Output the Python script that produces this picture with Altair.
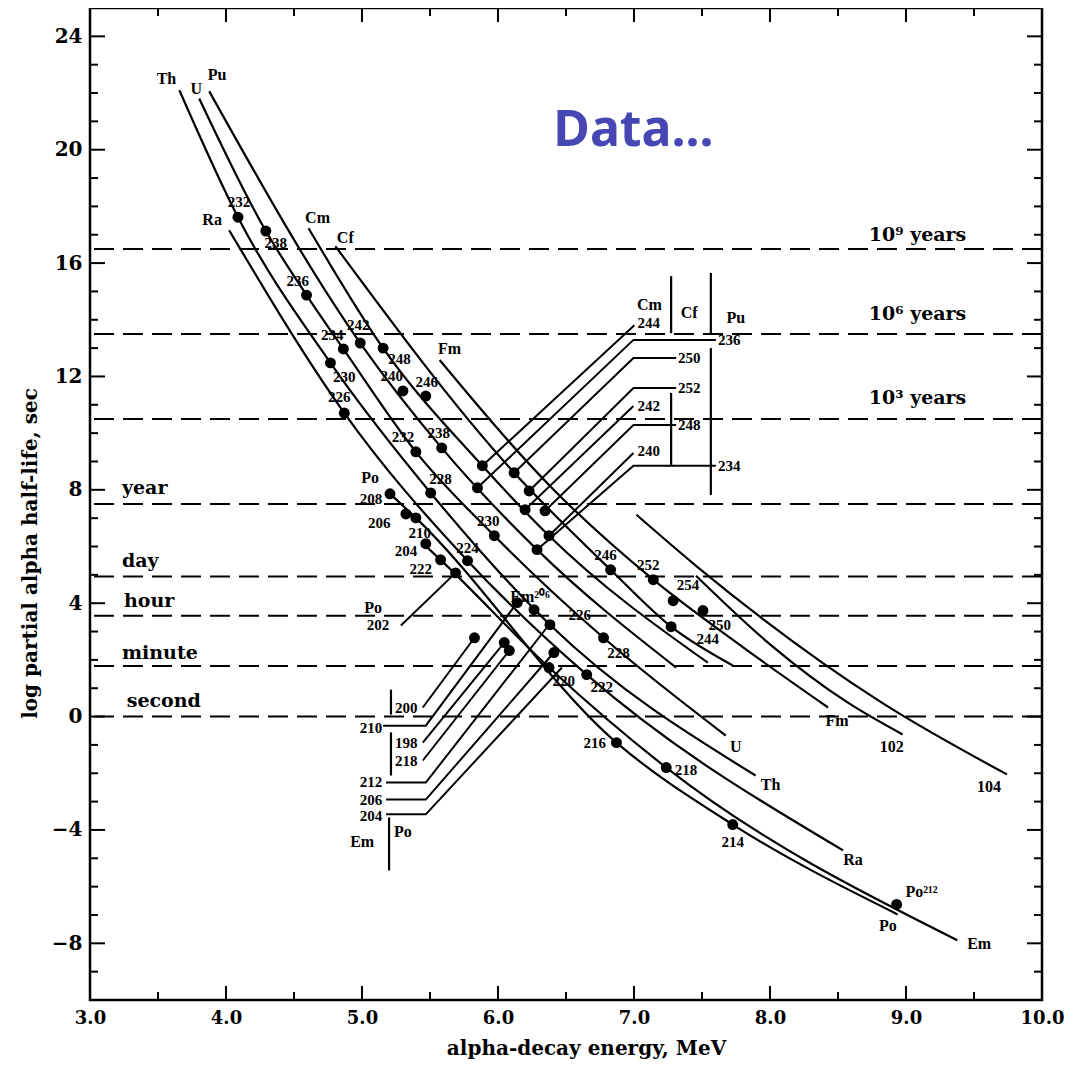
import altair as alt
import pandas as pd

W, H = 952, 992
SERIF = "Liberation Serif"
WIDE = "DejaVu Serif"

# ---------------- axes ----------------
x_major = [3, 4, 5, 6, 7, 8, 9, 10]
x_minor = [3.5, 4.5, 5.5, 6.5, 7.5, 8.5, 9.5]
y_major = [-8, -4, 0, 4, 8, 12, 16, 20, 24]
y_minor = [-9, -7, -6, -5, -3, -2, -1, 1, 2, 3, 5, 6, 7, 9, 10, 11,
           13, 14, 15, 17, 18, 19, 21, 22, 23]

# ---------------- reference (dashed) lines ----------------
ref_T = [16.5, 13.5, 10.5, 7.5, 4.94, 3.56, 1.78, 0.0]
ref_right_text = ["10⁹ years", "10⁶ years", "10³ years"]
ref_right_E = [9.085, 9.085, 9.085]
ref_right_T = [16.99, 14.20, 11.24]
ref_left_text = ["year", "day", "hour", "minute", "second"]
ref_left_E = [3.235, 3.235, 3.25, 3.235, 3.27]
ref_left_T = [8.07, 5.50, 4.09, 2.26, 0.56]

# ---------------- element curves (E MeV, log T sec) ----------------
curve_Th = [(3.657, 22.10), (4.088, 17.62), (4.768, 12.48), (5.505, 7.89), (6.382, 3.24), (7.894, -2.08)]
curve_U = [(3.803, 21.81), (4.293, 17.13), (4.592, 14.87), (4.863, 12.97), (5.396, 9.34), (5.973, 6.38), (6.776, 2.78), (7.675, -0.67)]
curve_Pu = [(3.877, 22.06), (4.987, 13.18), (5.586, 9.48), (6.287, 5.89), (7.31, 1.73)]
curve_Ra = [(4.023, 17.16), (4.870, 10.71), (5.776, 5.50), (6.652, 1.48), (8.537, -4.72)]
curve_Cm = [(4.607, 17.23), (5.155, 13.00), (5.885, 8.85), (6.375, 6.38), (7.543, 1.90)]
curve_Cf = [(4.804, 16.60), (6.119, 8.60), (6.828, 5.18), (7.273, 3.17), (7.726, 1.80)]
curve_Fm = [(5.571, 12.58), (6.40, 8.05), (7.142, 4.83), (7.80, 2.45), (8.427, 0.32)]
curve_102 = [(7.456, 4.97), (8.00, 2.55), (8.573, 0.49), (8.975, -0.63)]
curve_104 = [(7.018, 7.12), (7.456, 5.32), (8.822, 0.49), (9.742, -2.04)]
curve_Po = [(5.206, 7.86), (5.396, 7.01), (6.871, -0.92), (7.726, -3.81), (8.939, -6.98)]
curve_Em = [(5.45, 6.10), (5.578, 5.53), (6.375, 1.73), (7.237, -1.80), (9.377, -7.89)]

curves = {"Th": curve_Th, "U": curve_U, "Pu": curve_Pu, "Ra": curve_Ra, "Cm": curve_Cm,
          "Cf": curve_Cf, "Fm": curve_Fm, "102": curve_102, "104": curve_104,
          "Po": curve_Po, "Em": curve_Em}

# ---------------- leader lines (label -> data point) ----------------
leader_Cm244 = [(5.885, 8.85), (7.003, 13.81)]
leader_Pu236 = [(5.849, 8.07), (6.996, 13.29), (7.602, 13.29)]
leader_Cf250 = [(6.119, 8.60), (6.996, 12.65), (7.310, 12.65)]
leader_Cf252 = [(6.229, 7.96), (6.996, 11.59), (7.310, 11.59)]
leader_Cm242 = [(6.199, 7.30), (6.996, 10.96)]
leader_Cf248 = [(6.346, 7.26), (6.996, 10.29), (7.310, 10.29)]
leader_Cm240 = [(6.375, 6.38), (6.996, 9.30)]
leader_Pu234 = [(6.287, 5.89), (6.996, 8.85), (7.602, 8.85)]
leader_Po200 = [(5.447, 0.32), (5.827, 2.78)]
leader_Em210 = [(5.155, -0.32), (5.469, -0.32), (6.141, 4.02)]
leader_Po198 = [(5.447, -0.92), (6.046, 2.61)]
leader_Po218 = [(5.447, -1.55), (6.083, 2.33)]
leader_Em212 = [(5.177, -2.33), (5.469, -2.33), (6.375, 3.24)]
leader_Em206 = [(5.177, -2.93), (5.469, -2.93), (6.411, 2.26)]
leader_Em204 = [(5.177, -3.45), (5.469, -3.45), (6.470, 1.73)]
leader_Po202 = [(5.286, 3.21), (5.688, 5.07)]

leaders = {"Cm244": leader_Cm244, "Pu236": leader_Pu236, "Cf250": leader_Cf250,
           "Cf252": leader_Cf252, "Cm242": leader_Cm242, "Cf248": leader_Cf248,
           "Cm240": leader_Cm240, "Pu234": leader_Pu234, "Po200": leader_Po200,
           "Em210": leader_Em210, "Po198": leader_Po198, "Po218": leader_Po218,
           "Em212": leader_Em212, "Em206": leader_Em206, "Em204": leader_Em204,
           "Po202": leader_Po202}

# bracket bars: (E, T_top, T_bottom)
bar_E = [7.273, 7.273, 7.565, 7.565, 5.213, 5.213, 5.199]
bar_T1 = [15.54, 11.42, 15.65, 13.00, 0.95, -0.56, -3.56]
bar_T2 = [13.53, 8.88, 13.46, 7.82, 0.07, -2.08, -5.43]

# ---------------- measured points ----------------
pt_E = [4.088, 4.293, 4.592, 4.863, 4.768, 4.870, 4.987, 5.155, 5.301, 5.469, 5.396, 5.586,
        5.505, 5.206, 5.323, 5.396, 5.469, 5.578, 5.688, 5.776, 5.973, 5.885, 5.849, 6.119,
        6.229, 6.199, 6.346, 6.375, 6.287, 6.828, 7.142, 7.288, 7.507, 7.273, 6.141, 6.265,
        6.382, 6.776, 6.375, 6.652, 6.871, 7.237, 7.726, 8.931, 5.827, 6.046, 6.083, 6.411]
pt_T = [17.62, 17.13, 14.87, 12.97, 12.48, 10.71, 13.18, 13.00, 11.49, 11.31, 9.34, 9.48,
        7.89, 7.86, 7.15, 7.01, 6.10, 5.53, 5.07, 5.50, 6.38, 8.85, 8.07, 8.60,
        7.96, 7.30, 7.26, 6.38, 5.89, 5.18, 4.83, 4.09, 3.74, 3.17, 4.02, 3.77,
        3.24, 2.78, 1.73, 1.48, -0.92, -1.80, -3.81, -6.63, 2.78, 2.61, 2.33, 2.26]

# ---------------- text labels ----------------
iso_text = ["232", "238", "236", "234", "230", "226", "242", "248", "240", "246", "232", "238",
            "228", "208", "206", "210", "204", "222", "224", "230", "246", "252", "254", "250",
            "244", "226", "228", "220", "222", "216", "218", "214", "202"]
iso_E = [4.096, 4.366, 4.527, 4.782, 4.870, 4.833, 4.972, 5.275, 5.218, 5.476, 5.301, 5.564,
         5.578, 5.067, 5.126, 5.425, 5.323, 5.432, 5.776, 5.929, 6.791, 7.105, 7.397, 7.631,
         7.543, 6.601, 6.886, 6.484, 6.762, 6.711, 7.383, 7.726, 5.118]
iso_T = [18.15, 16.70, 15.37, 13.46, 11.98, 11.28, 13.81, 12.60, 12.00, 11.81, 9.87, 10.01,
         8.39, 7.68, 6.84, 6.48, 5.85, 5.22, 5.96, 6.91, 5.71, 5.36, 4.65, 3.24,
         2.75, 3.59, 2.26, 1.27, 1.06, -0.95, -1.90, -4.44, 3.24]

elem_text = ["Th", "U", "Pu", "Ra", "Cm", "Cf", "Fm", "U", "Th", "Ra", "Fm", "102", "104",
             "Po", "Em", "Po²¹²", "Em²⁰⁶", "Po", "Po", "Cm", "Cf", "Pu", "Em", "Po"]
elem_E = [3.562, 3.782, 3.935, 3.898, 4.673, 4.877, 5.644, 7.748, 8.004, 8.610, 8.493, 8.895, 9.611,
          8.866, 9.538, 9.114, 6.236, 5.060, 5.082, 7.113, 7.405, 7.748, 5.001, 5.301]
elem_T = [22.48, 22.13, 22.63, 17.52, 17.59, 16.88, 12.97, -1.09, -2.40, -5.07, -0.14, -1.09, -2.50,
          -7.40, -8.04, -6.20, 4.23, 8.42, 3.84, 14.52, 14.24, 14.06, -4.44, -4.09]

lead_left_text = ["244", "236", "250", "252", "242", "248", "240", "234", "200", "198", "218"]
lead_left_E = [7.025, 7.617, 7.324, 7.324, 7.025, 7.324, 7.025, 7.617, 5.243, 5.243, 5.243]
lead_left_T = [13.88, 13.29, 12.65, 11.59, 10.96, 10.29, 9.37, 8.85, 0.32, -0.92, -1.55]

lead_right_text = ["210", "212", "206", "204"]
lead_right_E = [5.148, 5.148, 5.148, 5.148]
lead_right_T = [-0.39, -2.30, -2.93, -3.50]

title_text = "Data..."
title_E, title_T = 6.996, 20.65

# ---------------- dataframes ----------------
def poly_df(d):
    rows = []
    for name, pts in d.items():
        for k, (e, t) in enumerate(pts):
            rows.append({"E": e, "T": t, "id": name, "k": k})
    return pd.DataFrame(rows)

curves_df = poly_df(curves)
leaders_df = poly_df(leaders)
points_df = pd.DataFrame({"E": pt_E, "T": pt_T})
iso_df = pd.DataFrame({"E": iso_E, "T": iso_T, "txt": iso_text})
elem_df = pd.DataFrame({"E": elem_E, "T": elem_T, "txt": elem_text})
ll_df = pd.DataFrame({"E": lead_left_E, "T": lead_left_T, "txt": lead_left_text})
lr_df = pd.DataFrame({"E": lead_right_E, "T": lead_right_T, "txt": lead_right_text})
bars_df = pd.DataFrame({"E": bar_E, "T": bar_T1, "T2": bar_T2})
ref_df = pd.DataFrame({"T": ref_T})
refr_df = pd.DataFrame({"E": ref_right_E, "T": ref_right_T, "txt": ref_right_text})
refl_df = pd.DataFrame({"E": ref_left_E, "T": ref_left_T, "txt": ref_left_text})
title_df = pd.DataFrame({"E": [title_E], "T": [title_T], "txt": [title_text]})

xs = alt.Scale(domain=[3, 10], nice=False, zero=False)
ys = alt.Scale(domain=[-10, 25], nice=False, zero=False)

X = alt.X("E:Q", scale=xs, axis=alt.Axis(
    values=x_major, format=".1f", ticks=False, domain=False, grid=False,
    labelFont=WIDE, labelFontSize=18, labelFontWeight="bold", labelColor="black",
    labelPadding=9, labelFlush=False, labelOverlap=False,
    title="alpha-decay energy, MeV", titleFont=WIDE, titleFontSize=20,
    titleFontWeight="bold", titleColor="black", titleX=496, titleY=48,
    titleAlign="center", titleBaseline="middle"))
Y = alt.Y("T:Q", scale=ys, axis=alt.Axis(
    values=y_major, format="d", ticks=False, domain=False, grid=False,
    labelFont=WIDE, labelFontSize=20, labelFontWeight="bold", labelColor="black",
    labelPadding=8, labelFlush=False, labelOverlap=False,
    title="log partial alpha half-life, sec", titleFont=WIDE, titleFontSize=20,
    titleFontWeight="bold", titleColor="black", titleX=-60, titleY=545,
    titleAngle=270, titleAlign="center", titleBaseline="middle"))

layers = []

# inward ticks on all four sides
for vals, L in [(x_major, 14), (x_minor, 8)]:
    d = pd.DataFrame({"E": vals})
    layers.append(alt.Chart(d).mark_rule(color="black", strokeWidth=2).encode(
        x=X, y=alt.value(H), y2=alt.value(H - L)))
    layers.append(alt.Chart(d).mark_rule(color="black", strokeWidth=2).encode(
        x=X, y=alt.value(0), y2=alt.value(L)))
for vals, L in [(y_major, 15), (y_minor, 8)]:
    d = pd.DataFrame({"T": vals})
    layers.append(alt.Chart(d).mark_rule(color="black", strokeWidth=2).encode(
        y=Y, x=alt.value(0), x2=alt.value(L)))
    layers.append(alt.Chart(d).mark_rule(color="black", strokeWidth=2).encode(
        y=Y, x=alt.value(W), x2=alt.value(W - L)))

layers.append(alt.Chart(ref_df).mark_rule(color="black", strokeWidth=2, strokeDash=[20, 9]).encode(y=Y))

layers.append(alt.Chart(curves_df).mark_line(color="black", strokeWidth=2.2, interpolate="monotone").encode(
    x=X, y=Y, detail="id:N", order="k:Q"))
layers.append(alt.Chart(leaders_df).mark_line(color="black", strokeWidth=2).encode(
    x=X, y=Y, detail="id:N", order="k:Q"))
layers.append(alt.Chart(bars_df).mark_rule(color="black", strokeWidth=2.2).encode(
    x=X, y=Y, y2="T2:Q"))
layers.append(alt.Chart(points_df).mark_circle(color="black", opacity=1, size=120).encode(x=X, y=Y))

txt_common = dict(font=SERIF, fontWeight="bold", color="black", baseline="middle")
layers.append(alt.Chart(iso_df).mark_text(fontSize=15, align="center", **txt_common).encode(
    x=X, y=Y, text="txt:N"))
layers.append(alt.Chart(elem_df).mark_text(fontSize=16, align="center", **txt_common).encode(
    x=X, y=Y, text="txt:N"))
layers.append(alt.Chart(ll_df).mark_text(fontSize=15, align="left", **txt_common).encode(
    x=X, y=Y, text="txt:N"))
layers.append(alt.Chart(lr_df).mark_text(fontSize=15, align="right", **txt_common).encode(
    x=X, y=Y, text="txt:N"))
wide_common = dict(font=WIDE, fontWeight="bold", color="black", baseline="middle")
layers.append(alt.Chart(refr_df).mark_text(fontSize=19, align="center", **wide_common).encode(
    x=X, y=Y, text="txt:N"))
layers.append(alt.Chart(refl_df).mark_text(fontSize=19, align="left", **wide_common).encode(
    x=X, y=Y, text="txt:N"))
layers.append(alt.Chart(title_df).mark_text(fontSize=50, align="center", baseline="middle",
                                            font="Noto Sans", fontWeight="bold", color="#4646B4").encode(
    x=X, y=Y, text="txt:N"))

chart = alt.layer(*layers).properties(
    width=W, height=H,
    autosize=alt.AutoSizeParams(type="none"),
    padding={"left": 82, "top": 0, "right": 24, "bottom": 63},
    background="white",
).configure_view(stroke="black", strokeWidth=2.5)

chart.save("out.html", embed_options={"renderer": "svg", "actions": False})
